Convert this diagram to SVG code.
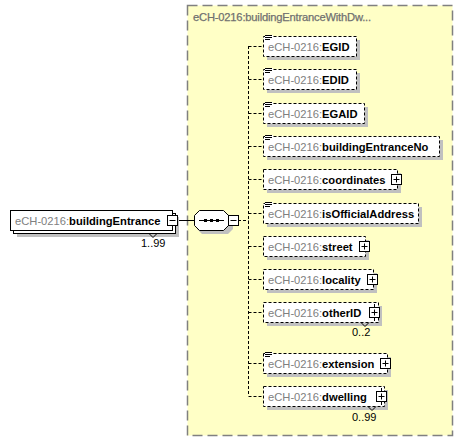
<svg xmlns="http://www.w3.org/2000/svg" width="464" height="442" viewBox="0 0 464 442">
<style>
text{font-family:"Liberation Sans",Arial,sans-serif;font-size:11.2px}
.p{fill:#808080}
.n{fill:#000;font-weight:bold}
.c{font-size:11px;fill:#000}
.box{fill:#fff;stroke:#000;stroke-width:1;stroke-dasharray:3,2}
.sbox{fill:#fff;stroke:#000;stroke-width:1}
.sh{fill:#c0c0c0}
.ln{stroke:#000;stroke-width:1;fill:none}
.dl{stroke:#000;stroke-width:1;fill:none;stroke-dasharray:3,2}
.ic{fill:#fff;stroke:#000;stroke-width:1}
.occ{fill:#000}
</style>
<defs>
<g id="plus"><rect class="ic" x="0" y="0" width="10" height="10"/><path class="ln" d="M2,5H8M5,2V8"/></g>
<g id="lines"><rect x="0" y="0" width="8" height="6" fill="#fff"/><path class="ln" d="M0,0.5H7M0,2.5H7M0,4.5H5"/></g>
</defs>
<rect id="grp" x="187.5" y="5.5" width="265" height="430" fill="#ffffc6" stroke="#808080" stroke-width="1.5" stroke-dasharray="10,5"/>
<text x="193" y="21" fill="#707070" font-size="10.6" letter-spacing="-0.2" stroke="#707070" stroke-width="0.25">eCH-0216:buildingEntranceWithDw...</text>
<g id="connectors">
<path class="ln" d="M177,220.5H194"/>
<path class="dl" d="M238,220.5H248.5M248.5,46V396"/>
<path class="dl" d="M248.5,46.5H263M248.5,79.5H263M248.5,113.5H263M248.5,146.5H263M248.5,179.5H263M248.5,213.5H263M248.5,246.5H263M248.5,279.5H263M248.5,312.5H263M248.5,363.5H263M248.5,396.5H263"/>
</g>
<g id="buildingEntrance">
<rect class="sh" x="17" y="217" width="162" height="20"/>
<rect class="sbox" x="13.5" y="213.5" width="162" height="20"/>
<rect class="sbox" x="10.5" y="210.5" width="162" height="20"/>
<text x="15" y="225"><tspan class="p">eCH-0216:</tspan><tspan class="n">buildingEntrance</tspan></text>
<rect class="ic" x="167.5" y="215.5" width="10" height="10"/>
<path class="ln" d="M169.5,220.5H175.5"/>
<path class="ln" d="M149,233.5L153,237.5L157,233.5"/>
<text x="141" y="247" class="c">1..99</text>
</g>
<g id="sequence">
<path class="sh" d="M202,214H228L233,219V229L228,234H202L197,229V219Z"/>
<path d="M199.5,210.5H223.5L228.5,215.5V225.5L223.5,230.5H199.5L194.5,225.5V215.5Z" fill="#fff" stroke="#000"/>
<path class="ln" d="M199,220.5H224"/>
<rect class="occ" x="204" y="219" width="3" height="3"/>
<rect class="occ" x="210" y="219" width="3" height="3"/>
<rect class="occ" x="216" y="219" width="3" height="3"/>
<rect class="ic" x="228.5" y="215.5" width="10" height="10"/>
<path class="ln" d="M230.5,220.5H236.5"/>
</g>
<g id="EGID">
<rect class="sh" x="267" y="40" width="93" height="20"/>
<rect class="box" x="263.5" y="36.5" width="93" height="20"/>
<use href="#lines" x="265" y="35"/>
<text x="268" y="51"><tspan class="p">eCH-0216:</tspan><tspan class="n">EGID</tspan></text>
</g>
<g id="EDID">
<rect class="sh" x="267" y="73" width="93" height="20"/>
<rect class="box" x="263.5" y="69.5" width="93" height="20"/>
<use href="#lines" x="265" y="68"/>
<text x="268" y="84"><tspan class="p">eCH-0216:</tspan><tspan class="n">EDID</tspan></text>
</g>
<g id="EGAID">
<rect class="sh" x="267" y="107" width="101" height="20"/>
<rect class="box" x="263.5" y="103.5" width="101" height="20"/>
<use href="#lines" x="265" y="102"/>
<text x="268" y="118"><tspan class="p">eCH-0216:</tspan><tspan class="n">EGAID</tspan></text>
</g>
<g id="buildingEntranceNo">
<rect class="sh" x="267" y="140" width="176" height="20"/>
<rect class="box" x="263.5" y="136.5" width="176" height="20"/>
<use href="#lines" x="265" y="135"/>
<text x="268" y="151"><tspan class="p">eCH-0216:</tspan><tspan class="n">buildingEntranceNo</tspan></text>
</g>
<g id="coordinates">
<rect class="sh" x="267" y="173" width="134" height="20"/>
<rect class="box" x="263.5" y="169.5" width="134" height="20"/>
<text x="268" y="184"><tspan class="p">eCH-0216:</tspan><tspan class="n">coordinates</tspan></text>
<use href="#plus" x="391.5" y="174.5"/>
</g>
<g id="isOfficialAddress">
<rect class="sh" x="267" y="207" width="155" height="20"/>
<rect class="box" x="263.5" y="203.5" width="155" height="20"/>
<use href="#lines" x="265" y="202"/>
<text x="268" y="218"><tspan class="p">eCH-0216:</tspan><tspan class="n">isOfficialAddress</tspan></text>
</g>
<g id="street">
<rect class="sh" x="267" y="240" width="102" height="20"/>
<rect class="box" x="263.5" y="236.5" width="102" height="20"/>
<text x="268" y="251"><tspan class="p">eCH-0216:</tspan><tspan class="n">street</tspan></text>
<use href="#plus" x="359.5" y="241.5"/>
</g>
<g id="locality">
<rect class="sh" x="267" y="273" width="110" height="20"/>
<rect class="box" x="263.5" y="269.5" width="110" height="20"/>
<text x="268" y="284"><tspan class="p">eCH-0216:</tspan><tspan class="n">locality</tspan></text>
<use href="#plus" x="367.5" y="274.5"/>
</g>
<g id="otherID">
<rect class="sh" x="267" y="306" width="115" height="20"/>
<rect class="box" x="263.5" y="302.5" width="115" height="20"/>
<text x="268" y="317"><tspan class="p">eCH-0216:</tspan><tspan class="n">otherID</tspan></text>
<use href="#plus" x="369.5" y="307.5"/>
<path class="ln" d="M374.5,304V307.5M374.5,317.5V321"/>
<path class="ln" d="M361,322.5L365,326.5L369,322.5"/>
<text x="352" y="336" class="c">0..2</text>
</g>
<g id="extension">
<rect class="sh" x="267" y="357" width="124" height="20"/>
<rect class="box" x="263.5" y="353.5" width="124" height="20"/>
<use href="#lines" x="265" y="352"/>
<text x="268" y="368"><tspan class="p">eCH-0216:</tspan><tspan class="n">extension</tspan></text>
<use href="#plus" x="380.5" y="358.5"/>
</g>
<g id="dwelling">
<rect class="sh" x="267" y="390" width="121" height="20"/>
<rect class="box" x="263.5" y="386.5" width="121" height="20"/>
<text x="268" y="401"><tspan class="p">eCH-0216:</tspan><tspan class="n">dwelling</tspan></text>
<use href="#plus" x="376.5" y="391.5"/>
<path class="ln" d="M381.5,388V391.5M381.5,401.5V405"/>
<path class="ln" d="M368,406.5L372,410.5L376,406.5"/>
<text x="352" y="421" class="c">0..99</text>
</g>
</svg>
